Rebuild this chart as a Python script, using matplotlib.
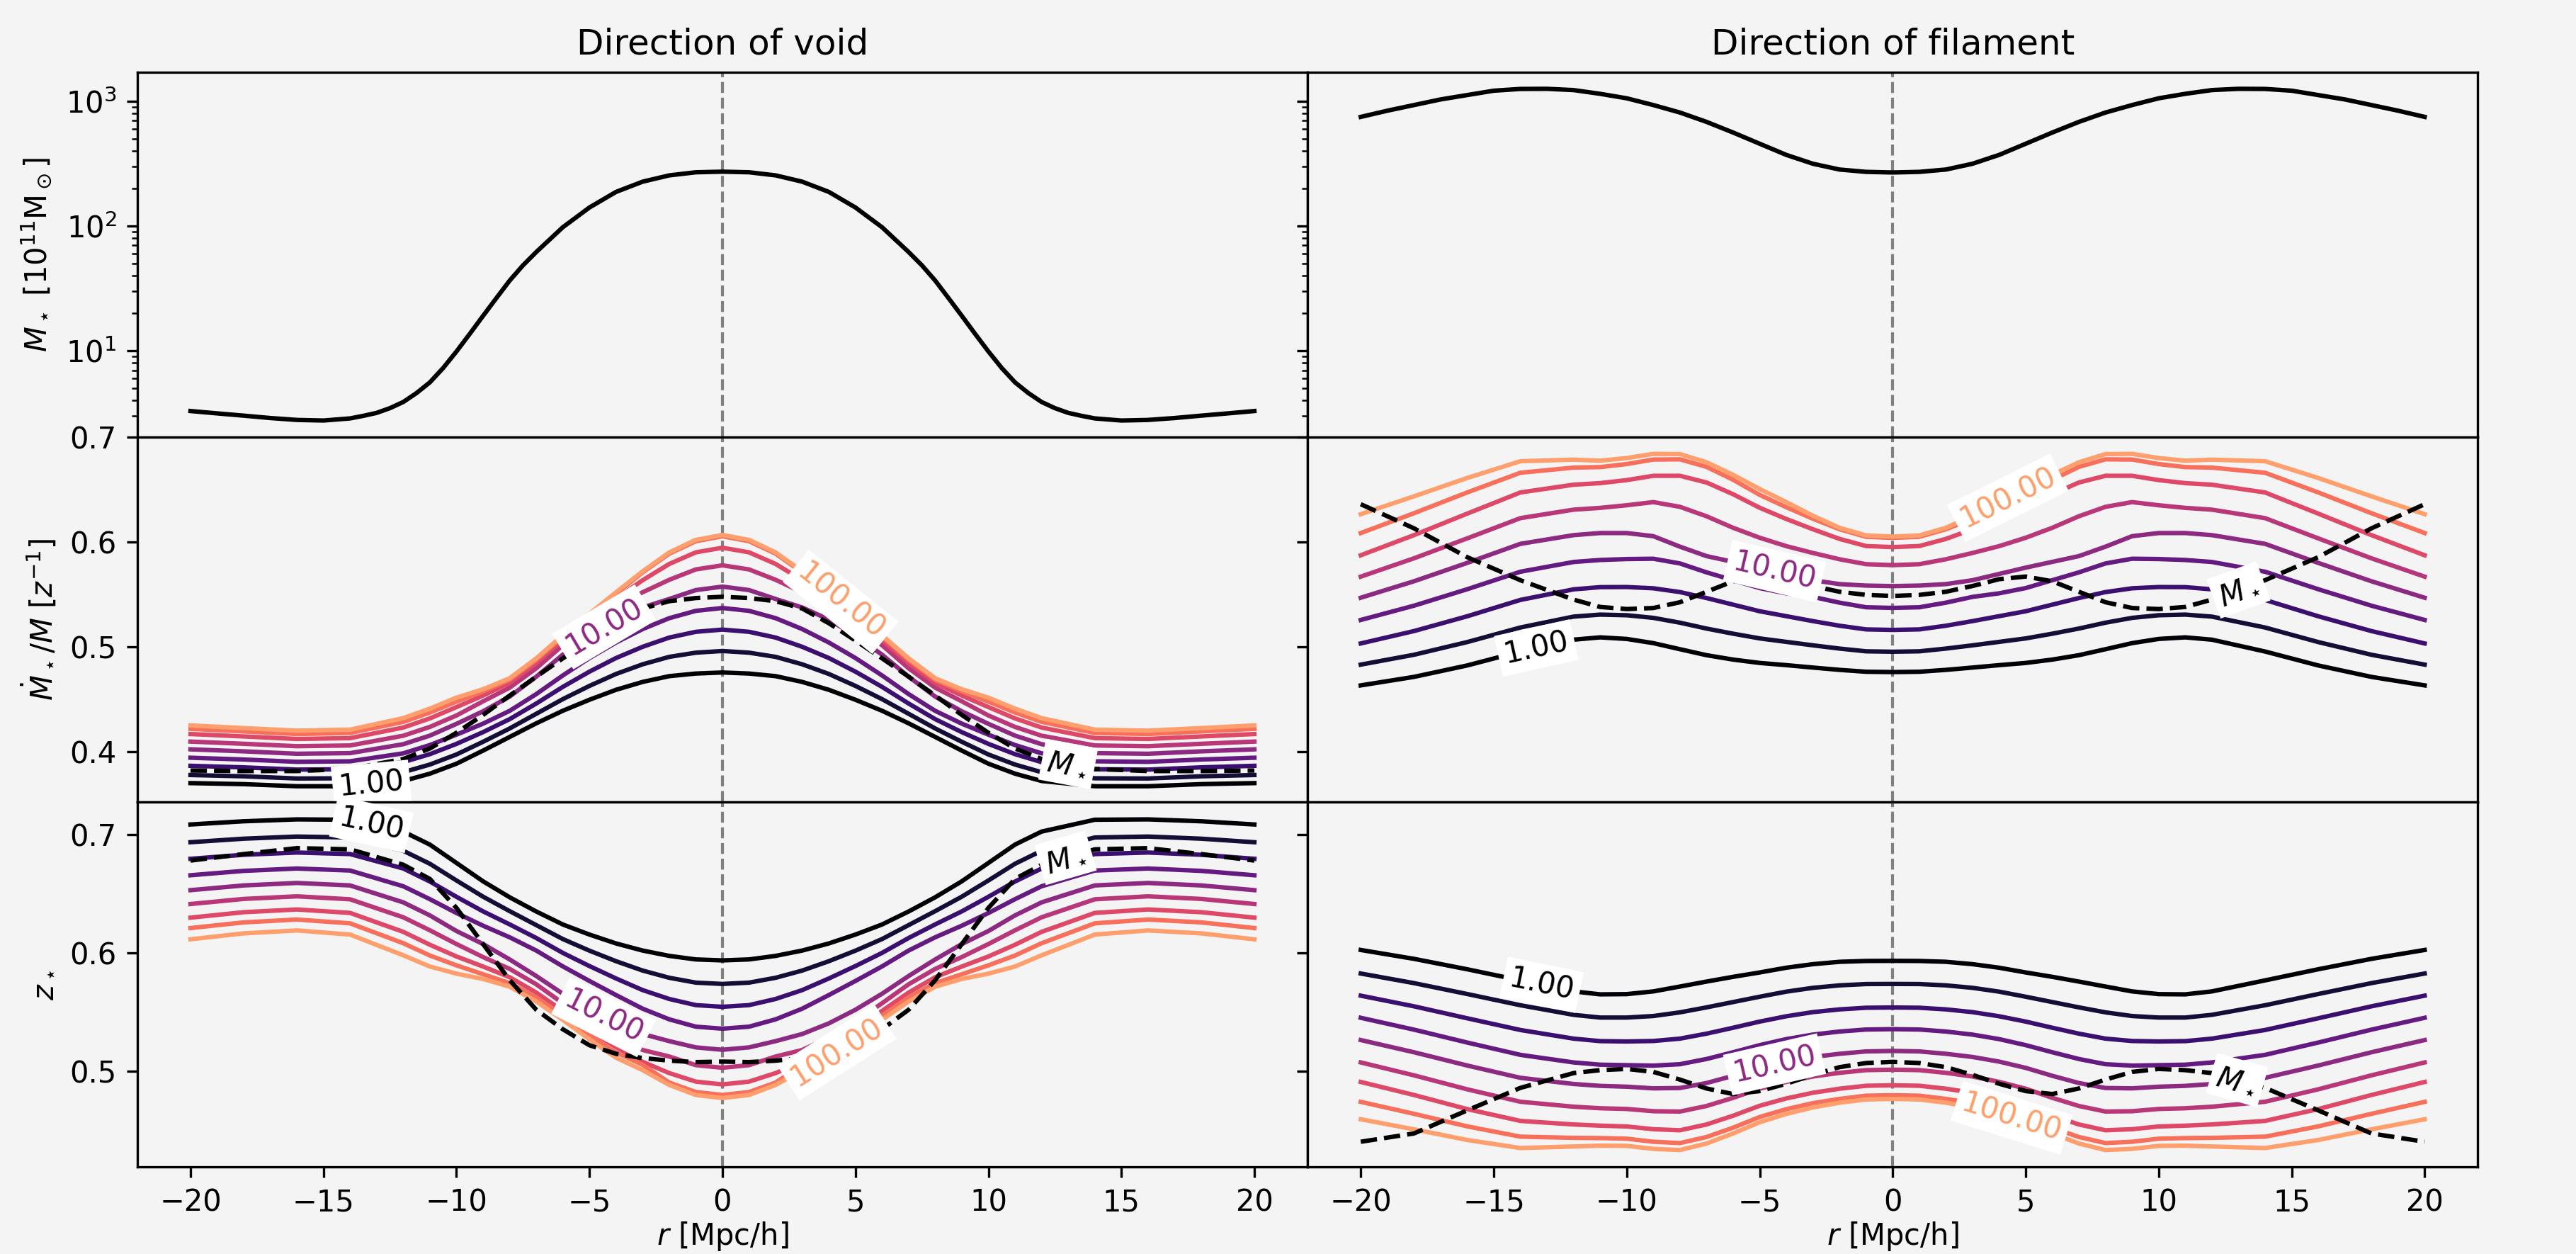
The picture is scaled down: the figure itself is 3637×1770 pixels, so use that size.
import numpy as np
import matplotlib
matplotlib.use("Agg")
import matplotlib.pyplot as plt

# ---------------- data (profiles are mirror-symmetric about r = 0) ----------------
r_top_void_half = np.array([0, 1, 2, 3, 4, 5, 6, 7, 7.5, 8, 8.5, 9, 9.5, 10, 10.5, 11, 11.5,
                            12, 12.5, 13, 13.5, 14, 15, 16, 17, 18, 19, 20], float)
r_top_fil_half = np.arange(0, 21, 1.0)
r_half = np.array([0, 1, 2, 3, 4, 5, 6, 7, 8, 9, 10, 11, 12, 14, 16, 18, 20], float)

# M_star [1e11 Msun] along the void / filament direction
mstar_void = [273, 270, 255, 227, 188, 141, 98, 62, 48.5, 36.6, 26.5, 19.1, 13.7, 9.9, 7.3,
              5.6, 4.6, 3.9, 3.48, 3.19, 3.02, 2.88, 2.77, 2.8, 2.9, 3.03, 3.16, 3.3]
mstar_fil = [269, 272, 284, 316, 372, 457, 562, 684, 813, 933, 1057, 1148, 1230, 1259,
             1256, 1216, 1122, 1035, 933, 841, 750]

level_values = [1.0, 1.78, 3.16, 5.62, 10.0, 17.8, 31.6, 56.2, 100.0]
level_labels = ["1.00", None, None, None, "10.00", None, None, None, "100.00"]

# Mdot/M contours, direction of void (levels low -> high)
mdot_void = [
    [.4755, .4745, .472, .4665, .459, .4495, .439, .427, .414, .401, .3885, .379, .372, .367, .367, .369, .370],
    [.496, .4944, .4904, .4833, .4741, .4627, .4501, .4361, .4221, .4094, .3973, .3877, .3804, .3746, .3744, .3765, .3777],
    [.5164, .5143, .5088, .5000, .4893, .4763, .4618, .4459, .431, .4186, .4074, .3976, .390, .3832, .3829, .385, .3865],
    [.537, .5343, .5273, .5169, .5041, .4893, .4727, .4549, .4389, .4267, .4162, .4063, .3984, .3908, .3903, .3925, .3942],
    [.5574, .5541, .5456, .5375, .526, .5105, .4925, .4715, .4525, .4385, .4265, .4153, .4071, .3986, .398, .4003, .4022],
    [.5777, .5738, .5639, .552, .538, .5215, .5015, .4795, .461, .448, .4345, .4236, .4152, .4059, .4052, .4075, .4096],
    [.5945, .5901, .579, .5635, .546, .527, .5065, .4845, .4655, .4535, .4425, .4317, .423, .4129, .4121, .4145, .4168],
    [.6054, .6007, .5888, .571, .5505, .530, .5095, .4875, .4685, .4575, .4477, .4373, .4284, .4178, .4168, .4193, .4217],
    [.6067, .602, .590, .572, .552, .5315, .511, .489, .470, .4595, .4515, .441, .432, .421, .420, .4225, .425],
]
mdot_void_mstar = [.5477, .5465, .5435, .5365, .5225, .506, .489, .4715, .4535, .435, .418, .403, .393, .3835, .3815, .3815, .382]

# z_star contours, direction of void
zstar_void = [
    [.5937, .5945, .5975, .602, .608, .6155, .624, .635, .647, .6605, .676, .6915, .7025, .7125, .7128, .7112, .7085],
    [.5738, .5749, .579, .5851, .593, .6019, .6117, .6235, .6353, .6475, .6612, .6753, .6863, .6975, .6983, .6965, .6935],
    [.5545, .5559, .5611, .5686, .5784, .5889, .600, .6126, .6241, .6351, .6474, .6603, .6713, .6835, .6848, .6829, .6795],
    [.536, .5377, .5439, .5529, .5644, .5763, .5886, .602, .6132, .623, .6337, .6454, .6563, .6696, .6713, .6693, .6656],
    [.5182, .5202, .5255, .5315, .5405, .552, .5655, .5805, .5945, .6075, .6185, .6317, .6427, .657, .6591, .657, .653],
    [.503, .5052, .5125, .518, .5285, .542, .5575, .5735, .5865, .5965, .6075, .6191, .6301, .6453, .6478, .6456, .6413],
    [.4889, .4913, .4985, .508, .5205, .535, .551, .5665, .5795, .5885, .597, .6069, .6178, .6338, .6367, .6344, .6298],
    [.48, .4825, .4905, .5055, .516, .531, .547, .5625, .5745, .582, .5895, .5978, .6082, .625, .6282, .6258, .621],
    [.4774, .480, .4885, .501, .5115, .527, .5435, .559, .5715, .578, .5825, .5885, .598, .6155, .619, .6165, .6115],
]
zstar_void_mstar = [.5082, .5078, .509, .5112, .5148, .522, .5355, .552, .577, .6075, .638, .6625, .6745, .6875, .6885, .6835, .678]

# Mdot/M contours, direction of filament
mdot_fil = [
    [.4759, .4762, .478, .4802, .4825, .4846, .4878, .492, .4977, .5035, .5075, .509, .5068, .4955, .4822, .4713, .4632],
    [.4953, .4957, .4983, .5014, .5047, .508, .5125, .5174, .523, .5276, .5301, .5307, .5288, .5184, .5045, .4924, .483],
    [.5161, .5166, .5201, .5245, .5292, .5339, .5402, .5465, .5522, .5558, .557, .5569, .5548, .5447, .5291, .515, .5032],
    [.5371, .5377, .5421, .5476, .551, .556, .5635, .571, .5795, .584, .5837, .5828, .5809, .5716, .5549, .5392, .5256],
    [.5579, .5584, .5598, .5635, .5695, .5755, .581, .5865, .5955, .6055, .6085, .6085, .6065, .5982, .58, .5625, .5468],
    [.5779, .5788, .5835, .5895, .596, .604, .6135, .6245, .6335, .638, .635, .6325, .6308, .6227, .6034, .5844, .5669],
    [.5951, .5961, .6029, .6121, .6219, .6326, .6455, .6567, .6631, .6631, .659, .6561, .6546, .6472, .627, .6065, .5873],
    [.6039, .6049, .6121, .6221, .6331, .6449, .6593, .6716, .6788, .6786, .6743, .6714, .6709, .666, .6472, .6274, .6085],
    [.6052, .6062, .6135, .625, .638, .6505, .664, .676, .6838, .684, .68, .6775, .6785, .677, .661, .6435, .6265],
]
mdot_fil_mstar = [.5485, .5495, .5525, .558, .5645, .567, .5625, .5525, .5425, .537, .536, .538, .545, .5635, .5855, .613, .636]

# z_star contours, direction of filament
zstar_fil = [
    [.5933, .5932, .5925, .5905, .5875, .5835, .5798, .5758, .5716, .5675, .5652, .565, .5675, .5768, .5862, .595, .6025],
    [.5738, .5737, .5726, .5705, .5673, .563, .5585, .554, .5498, .5467, .5454, .5454, .5477, .5558, .5653, .5745, .5826],
    [.5539, .5537, .5523, .55, .5465, .542, .5368, .5318, .5276, .5256, .5252, .5255, .5276, .5349, .5448, .5549, .5639],
    [.5356, .5353, .5336, .531, .5272, .5221, .5161, .5104, .506, .5048, .5052, .5056, .5075, .5139, .5243, .5352, .5452],
    [.5172, .5168, .5148, .5121, .5082, .5029, .4962, .4901, .4859, .4856, .487, .4877, .4893, .4945, .5049, .5161, .5264],
    [.5014, .501, .4987, .4956, .4911, .4853, .4776, .4707, .466, .4663, .4682, .4688, .4701, .4743, .4848, .4966, .5075],
    [.4882, .4878, .4853, .4819, .4771, .4709, .4625, .4551, .4502, .4511, .4534, .4541, .4551, .4581, .4681, .48, .491],
    [.4798, .4794, .4767, .4731, .468, .4614, .4524, .4445, .4394, .4405, .4431, .4436, .4438, .4448, .4535, .4641, .4742],
    [.4767, .4762, .4735, .4695, .464, .457, .4475, .439, .4335, .4345, .437, .4372, .4365, .4352, .442, .451, .4595],
]
zstar_fil_mstar = [.508, .507, .5035, .497, .4895, .4833, .4808, .4855, .493, .4995, .502, .501, .4985, .486, .467, .4475, .4405]

# where the inline labels sit: (row, col, curve index or 'm', r position)
label_spots = [
    (1, 0, 0, -13.2), (1, 0, 4, -4.45), (1, 0, 8, 4.44), (1, 0, "m", 13.0),
    (2, 0, 0, -13.2), (2, 0, 4, -4.47), (2, 0, 8, 4.3), (2, 0, "m", 12.9),
    (1, 1, 0, -13.4), (1, 1, 4, -4.44), (1, 1, 8, 4.33), (1, 1, "m", 13.0),
    (2, 1, 0, -13.2), (2, 1, 4, -4.44), (2, 1, 8, 4.47), (2, 1, "m", 12.95),
]


# ---------------- helpers ----------------
def mirror_x(h):
    h = np.asarray(h, float)
    return np.concatenate([-h[::-1], h[1:]])


def mirror_y(v):
    v = np.asarray(v, float)
    return np.concatenate([v[::-1], v[1:]])


r_full = mirror_x(r_half)

BG = "#f4f4f4"
colors = plt.cm.magma(np.linspace(0.0, 0.8, len(level_values)))

fig = plt.figure(figsize=(3637 / 300, 1770 / 300), dpi=300, facecolor=BG)
axes = fig.subplots(3, 2, sharex=True, sharey="row",
                    gridspec_kw=dict(hspace=0, wspace=0))
fig.subplots_adjust(left=0.0533, right=0.9619, top=0.9424, bottom=0.0695)

for ax in axes.flat:
    ax.set_facecolor(BG)
    ax.axvline(0, color="gray", ls="--", lw=1, zorder=1)

# top row
axes[0, 0].plot(mirror_x(r_top_void_half), mirror_y(mstar_void), color="k", lw=1.5)
axes[0, 1].plot(mirror_x(r_top_fil_half), mirror_y(mstar_fil), color="k", lw=1.5)
axes[0, 0].set_yscale("log")

panels = {
    (1, 0): (mdot_void, mdot_void_mstar),
    (2, 0): (zstar_void, zstar_void_mstar),
    (1, 1): (mdot_fil, mdot_fil_mstar),
    (2, 1): (zstar_fil, zstar_fil_mstar),
}
for (i, j), (lines, mline) in panels.items():
    ax = axes[i, j]
    for k, yv in enumerate(lines):
        ax.plot(r_full, mirror_y(yv), color=colors[k], lw=1.5, zorder=2)
    ax.plot(r_full, mirror_y(mline), color="k", ls="--", lw=1.5, zorder=2)

axes[0, 0].set_xlim(-22, 22)
axes[0, 0].set_xticks([-20, -15, -10, -5, 0, 5, 10, 15, 20])
axes[1, 0].set_ylim(0.352, 0.7)
axes[1, 0].set_yticks([0.4, 0.5, 0.6, 0.7])
axes[2, 0].set_ylim(0.4193, 0.7275)
axes[2, 0].set_yticks([0.5, 0.6, 0.7])

axes[0, 0].set_title("Direction of void")
axes[0, 1].set_title("Direction of filament")
axes[0, 0].set_ylabel(r"$M_\star$ [$10^{11}\mathrm{M}_\odot$]")
axes[1, 0].set_ylabel(r"$\dot{M}_\star/M$ [$z^{-1}$]")
axes[2, 0].set_ylabel(r"$z_\star$")
axes[2, 0].set_xlabel(r"$r$ [Mpc/h]", labelpad=1)
axes[2, 1].set_xlabel(r"$r$ [Mpc/h]", labelpad=1)

# inline labels (placed on the curves, rotated along them)
fig.canvas.draw()
for (i, j, idx, rpos) in label_spots:
    ax = axes[i, j]
    lines, mline = panels[(i, j)]
    if idx == "m":
        yv, text, col = mline, r"$M_\star$", "k"
    else:
        yv, text, col = lines[idx], level_labels[idx], colors[idx]
    yf = mirror_y(yv)
    y0 = np.interp(rpos, r_full, yf)
    d = 0.6
    p1 = ax.transData.transform((rpos - d, np.interp(rpos - d, r_full, yf)))
    p2 = ax.transData.transform((rpos + d, np.interp(rpos + d, r_full, yf)))
    ang = np.degrees(np.arctan2(p2[1] - p1[1], p2[0] - p1[0]))
    ax.text(rpos, y0, text, rotation=ang, rotation_mode="anchor",
            ha="center", va="center", color=col, fontsize=10, zorder=5,
            bbox=dict(facecolor="white", edgecolor="none", pad=2.0))

fig.savefig("out.png", dpi=300, facecolor=BG)
